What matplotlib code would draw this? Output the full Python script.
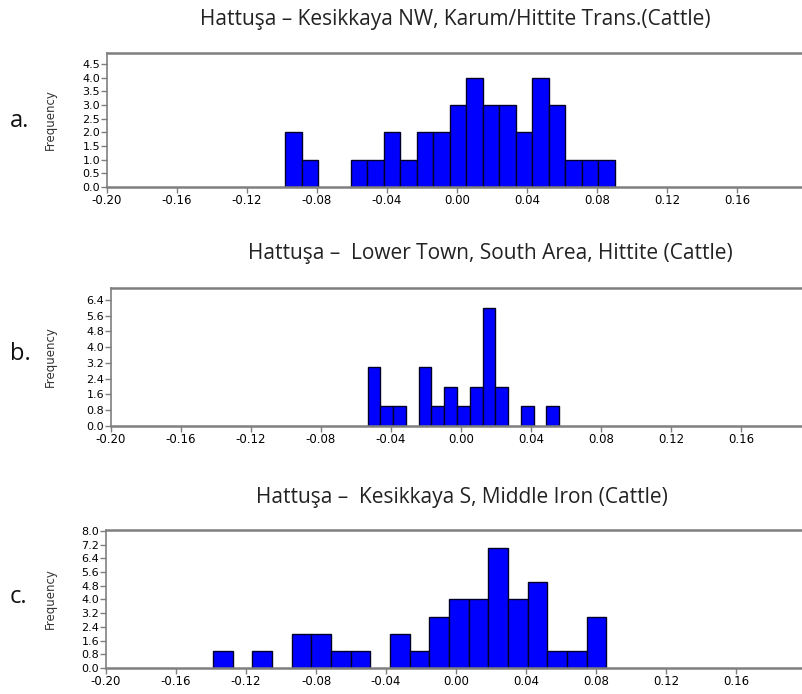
import numpy as np
import matplotlib
matplotlib.use('Agg')
import matplotlib.pyplot as plt

# counts per bin
counts_a = [2, 1, 0, 0, 1, 1, 2, 1, 2, 2, 3, 4, 3, 3, 2, 4, 3, 1, 1, 1]
counts_b = [3, 1, 1, 0, 3, 1, 2, 1, 2, 6, 2, 0, 1, 0, 1]
counts_c = [1, 0, 1, 0, 2, 2, 1, 1, 0, 2, 1, 3, 4, 4, 7, 4, 5, 1, 1, 3]

# first bin edge and bin width of each histogram
start_a, width_a = -0.0982, 0.00941
start_b, width_b = -0.0534, 0.00730
start_c, width_c = -0.1389, 0.01124

titles = ['Hattuşa – Kesikkaya NW, Karum/Hittite Trans.(Cattle)',
          'Hattuşa –  Lower Town, South Area, Hittite (Cattle)',
          'Hattuşa –  Kesikkaya S, Middle Iron (Cattle)']
letters = ['a.', 'b.', 'c.']
xticks = [-0.20, -0.16, -0.12, -0.08, -0.04, 0.00, 0.04, 0.08, 0.12, 0.16]
yticks_a = [0.0, 0.5, 1.0, 1.5, 2.0, 2.5, 3.0, 3.5, 4.0, 4.5]
yticks_b = [0.0, 0.8, 1.6, 2.4, 3.2, 4.0, 4.8, 5.6, 6.4]
yticks_c = [0.0, 0.8, 1.6, 2.4, 3.2, 4.0, 4.8, 5.6, 6.4, 7.2, 8.0]

W, H = 802, 694
fig = plt.figure(figsize=(W / 100, H / 100), dpi=100)

# (left px, top px, bottom px) of each axes box
boxes = [(107, 53, 187), (111, 288, 426), (106, 530, 668)]
ylims = [4.9, 7.0, 8.05]
title_pos = [(455, 20), (490, 254), (462, 497)]
letter_y = [121, 354, 597]

tick_font = ['DejaVu Sans']
title_font = ['Open Sans', 'DejaVu Sans']
grey = '#7f7f7f'

data = [(counts_a, start_a, width_a, yticks_a),
        (counts_b, start_b, width_b, yticks_b),
        (counts_c, start_c, width_c, yticks_c)]

for i, (counts, start, width, yt) in enumerate(data):
    left, top, bottom = boxes[i]
    ax = fig.add_axes([left / W, 1 - bottom / H, 700 / W, (bottom - top) / H])
    counts = np.array(counts)
    lefts = start + width * np.arange(len(counts))
    keep = counts > 0
    ax.bar(lefts[keep], counts[keep], width=width, align='edge',
           color='#0000ff', edgecolor='#000028', linewidth=1.0)
    ax.set_xlim(-0.20, 0.20)
    ax.set_ylim(0, ylims[i])
    ax.set_xticks(xticks)
    ax.set_xticklabels(['%.2f' % v for v in xticks], family=tick_font, fontsize=8.5)
    ax.set_yticks(yt)
    ax.set_yticklabels(['%.1f' % v for v in yt], family=tick_font, fontsize=8)
    ax.tick_params(direction='out', length=4, width=1, color=grey, pad=1)
    for side in ['top', 'bottom']:
        ax.spines[side].set_color(grey)
        ax.spines[side].set_linewidth(1.8)
    ax.spines['left'].set_color(grey)
    ax.spines['left'].set_linewidth(1.2)
    ax.spines['right'].set_visible(False)

    mid = (top + bottom) / 2
    fig.text(50 / W, 1 - mid / H, 'Frequency', rotation=90, ha='center',
             va='center', family=tick_font, fontsize=8.5, color='#333333')
    tx, ty = title_pos[i]
    fig.text(tx / W, 1 - ty / H, titles[i], ha='center', va='center',
             family=title_font, fontsize=15, color='#222222')
    fig.text(10 / W, 1 - letter_y[i] / H, letters[i], ha='left', va='center',
             family=title_font, fontsize=17, color='#111111')

plt.savefig('out.png', dpi=100)
